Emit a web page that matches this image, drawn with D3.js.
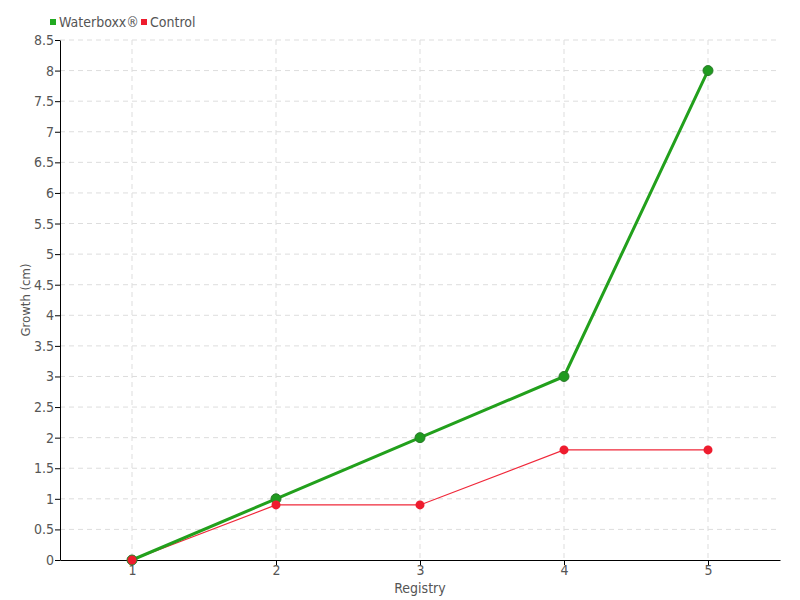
<!DOCTYPE html>
<html lang="en">
<head>
    <meta charset="UTF-8">
    <title>Growth chart</title>
    <script src="https://d3js.org/d3.v7.min.js"></script>
    <style>
        body { margin: 0; background: #fff; }
        text { font-family: "DejaVu Sans Condensed", sans-serif; fill: #555; }
        .grid line { stroke: #ddd; stroke-dasharray: 5,4; }
        .axis path, .axis line { stroke: #000; }
    </style>
</head>
<body>
<script>
    // data
    var registry = [1, 2, 3, 4, 5]
    var waterboxx = [0, 1, 2, 3, 8]
    var control = [0, 0.9, 0.9, 1.8, 1.8]
    var yTicks = [0, 0.5, 1, 1.5, 2, 2.5, 3, 3.5, 4, 4.5, 5, 5.5, 6, 6.5, 7, 7.5, 8, 8.5]

    var w = 800, h = 600
    var mLeft = 60, mRight = 780, mTop = 40, mBottom = 560

    var svg = d3.select('body').append('svg')
        .attr('width', w)
        .attr('height', h)

    var x = d3.scaleLinear().domain([0.5, 5.5]).range([mLeft, mRight])
    var y = d3.scaleLinear().domain([0, 8.5]).range([mBottom, mTop])

    // grid
    svg.append('g').attr('class', 'grid')
        .selectAll('line').data(yTicks.slice(1)).enter().append('line')
        .attr('x1', mLeft).attr('x2', mRight)
        .attr('y1', d => y(d)).attr('y2', d => y(d))
    svg.append('g').attr('class', 'grid')
        .selectAll('line').data(registry).enter().append('line')
        .attr('x1', d => x(d)).attr('x2', d => x(d))
        .attr('y1', mTop).attr('y2', mBottom)

    // axes
    var xAxis = svg.append('g').attr('class', 'axis')
        .attr('transform', 'translate(0,' + mBottom + ')')
        .call(d3.axisBottom(x).tickValues(registry).tickFormat(d3.format('')).tickSize(5).tickSizeOuter(0))
    var yAxis = svg.append('g').attr('class', 'axis')
        .attr('transform', 'translate(' + mLeft + ',0)')
        .call(d3.axisLeft(y).tickValues(yTicks).tickFormat(d3.format('')).tickSize(5).tickSizeOuter(0))
    svg.selectAll('.axis text').style('font-size', '14px').attr('fill', '#555')
    yAxis.selectAll('text').attr('x', -6)
    xAxis.selectAll('text').attr('y', 5)

    // axis titles
    svg.append('text')
        .attr('x', (mLeft + mRight) / 2).attr('y', 593)
        .attr('text-anchor', 'middle')
        .style('font-size', '14px')
        .text('Registry')
    svg.append('text')
        .attr('transform', 'translate(30,' + ((mTop + mBottom) / 2) + ') rotate(-90)')
        .attr('text-anchor', 'middle')
        .style('font-size', '13px')
        .text('Growth (cm)')

    var line = d3.line().x((d, i) => x(registry[i])).y(d => y(d))

    // control
    svg.append('path').datum(control)
        .attr('d', line)
        .attr('fill', 'none')
        .attr('stroke', '#f0283a')
        .attr('stroke-width', 1.2)

    // waterboxx
    svg.append('path').datum(waterboxx)
        .attr('d', line)
        .attr('fill', 'none')
        .attr('stroke', '#22a01c')
        .attr('stroke-width', 3)
    svg.selectAll('.wdot').data(waterboxx).enter().append('circle')
        .attr('class', 'wdot')
        .attr('cx', (d, i) => x(registry[i]))
        .attr('cy', d => y(d))
        .attr('r', 5)
        .attr('fill', '#1f9a1f')
        .attr('stroke', '#2a7a2a')
        .attr('stroke-width', 1)

    svg.selectAll('.cdot').data(control).enter().append('circle')
        .attr('class', 'cdot')
        .attr('cx', (d, i) => x(registry[i]))
        .attr('cy', d => y(d))
        .attr('r', 4.5)
        .attr('fill', '#ee1c2e')

    // legend
    var legend = [['Waterboxx®', '#22aa22', 50], ['Control', '#ee1c2e', 141]]
    legend.forEach(function (l) {
        svg.append('rect').attr('x', l[2]).attr('y', 19).attr('width', 6).attr('height', 6).attr('fill', l[1])
        svg.append('text').attr('x', l[2] + 9).attr('y', 27).style('font-size', '14px').text(l[0])
    })
</script>
</body>
</html>
